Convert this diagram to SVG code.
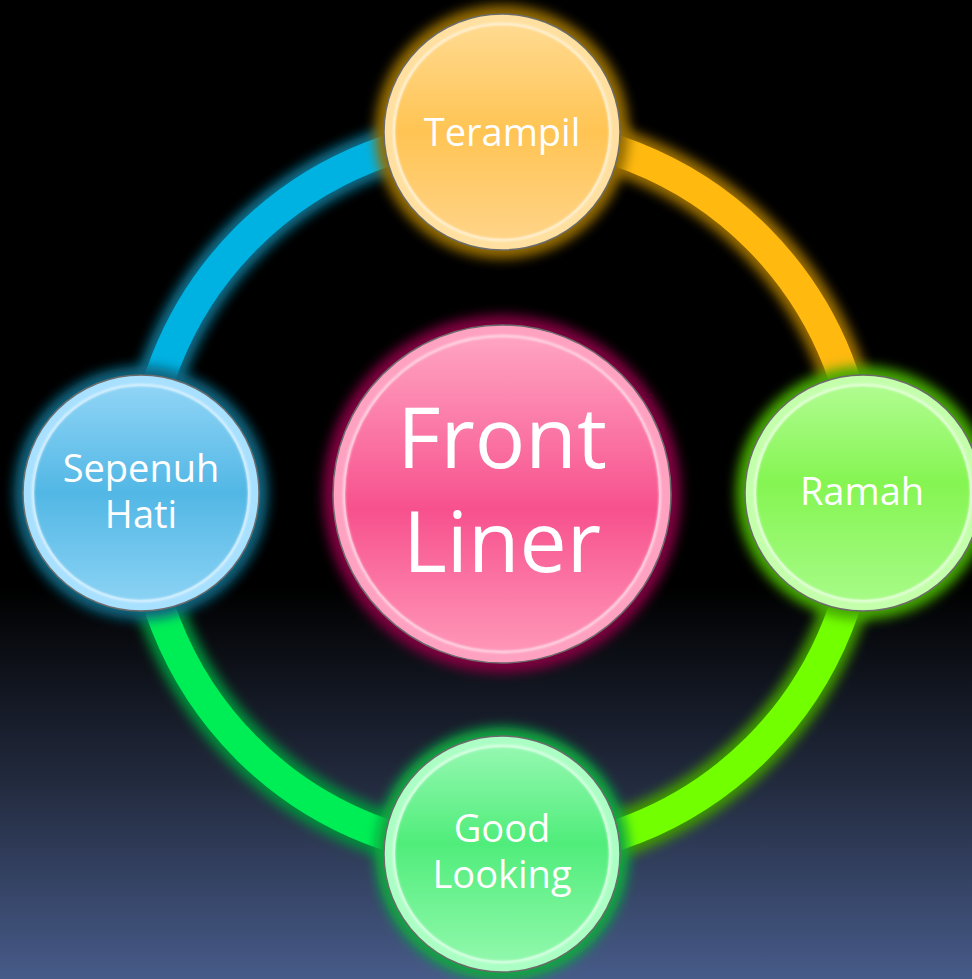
<svg xmlns="http://www.w3.org/2000/svg" width="972" height="979" viewBox="0 0 972 979">
<defs>
<linearGradient id="bg" x1="0" y1="0" x2="0" y2="1">
<stop offset="0" stop-color="#000"/>
<stop offset="0.6" stop-color="#000"/>
<stop offset="0.8" stop-color="#222a3e"/>
<stop offset="1" stop-color="#475b89"/>
</linearGradient>
<filter id="blur" x="-30%" y="-30%" width="160%" height="160%"><feGaussianBlur stdDeviation="6"/></filter>
<filter id="blurS" x="-30%" y="-30%" width="160%" height="160%"><feGaussianBlur stdDeviation="1.2"/></filter>
<linearGradient id="gT" x1="0" y1="0" x2="0" y2="1"><stop offset="0" stop-color="#ffda90"/><stop offset="0.5" stop-color="#ffc453"/><stop offset="1" stop-color="#ffd488"/></linearGradient>
<linearGradient id="gC" x1="0" y1="0" x2="0" y2="1"><stop offset="0" stop-color="#ffa4c2"/><stop offset="0.55" stop-color="#f7518d"/><stop offset="1" stop-color="#ff96b8"/></linearGradient>
<linearGradient id="gL" x1="0" y1="0" x2="0" y2="1"><stop offset="0" stop-color="#8fd4f6"/><stop offset="0.5" stop-color="#52b7e5"/><stop offset="1" stop-color="#8ad2f4"/></linearGradient>
<linearGradient id="gR" x1="0" y1="0" x2="0" y2="1"><stop offset="0" stop-color="#b0fc90"/><stop offset="0.45" stop-color="#85f552"/><stop offset="1" stop-color="#a6fb86"/></linearGradient>
<linearGradient id="gB" x1="0" y1="0" x2="0" y2="1"><stop offset="0" stop-color="#94f8b0"/><stop offset="0.45" stop-color="#50ed7b"/><stop offset="1" stop-color="#90f8ab"/></linearGradient>
</defs>
<style>
.glow{fill:none;stroke-width:46;filter:url(#blur)}
.arc{fill:none;stroke-width:31}
.halo{filter:url(#blur)}
.edge{stroke:#6b6b6b;stroke-width:1.5}
.hl{fill:none;stroke:#ffffff;stroke-opacity:0.6;stroke-width:2.5;filter:url(#blurS)}
.t{font-family:"Open Sans","Liberation Sans",sans-serif;fill:#fff;text-anchor:middle}
.s{font-size:38px}
.b{font-size:84px}
</style>
<rect width="972" height="979" fill="url(#bg)"/>
<g id="connectors">
<path class="glow" stroke="#0a6f8c" d="M502,132 A361,361 0 0 0 141,493"/>
<path class="glow" stroke="#9c7000" d="M502,132 A361,361 0 0 1 863,493"/>
<path class="glow" stroke="#3f9a00" d="M863,493 A361,361 0 0 1 502,854"/>
<path class="glow" stroke="#00903a" d="M502,854 A361,361 0 0 1 141,493"/>
<path class="arc" stroke="#00b2e2" d="M502,132 A361,361 0 0 0 141,493"/>
<path class="arc" stroke="#ffb90f" d="M502,132 A361,361 0 0 1 863,493"/>
<path class="arc" stroke="#72ff00" d="M863,493 A361,361 0 0 1 502,854"/>
<path class="arc" stroke="#00ee55" d="M502,854 A361,361 0 0 1 141,493"/>
</g>
<g id="node-center">
<circle class="halo" cx="502" cy="494" r="179" fill="#800040"/>
<circle class="edge" cx="502" cy="494" r="169" fill="#ffa2c2"/>
<circle cx="502" cy="494" r="157" fill="url(#gC)"/>
<circle class="hl" cx="502" cy="494" r="158"/>
<text class="t b" x="502" y="468">Front<tspan x="502" y="572">Liner</tspan></text>
</g>
<g id="node-top">
<circle class="halo" cx="502" cy="132" r="127" fill="#946c00"/>
<circle class="edge" cx="502" cy="132" r="118" fill="#ffe0a0"/>
<circle cx="502" cy="132" r="107" fill="url(#gT)"/>
<circle class="hl" cx="502" cy="132" r="108"/>
<text class="t s" x="502" y="146">Terampil</text>
</g>
<g id="node-left">
<circle class="halo" cx="141" cy="493" r="127" fill="#0b6580"/>
<circle class="edge" cx="141" cy="493" r="118" fill="#a8e0ff"/>
<circle cx="141" cy="493" r="107" fill="url(#gL)"/>
<circle class="hl" cx="141" cy="493" r="108"/>
<text class="t s" x="141" y="482">Sepenuh<tspan x="141" y="528">Hati</tspan></text>
</g>
<g id="node-right">
<circle class="halo" cx="863" cy="493" r="127" fill="#44a800"/>
<circle class="edge" cx="863" cy="493" r="118" fill="#c4ffac"/>
<circle cx="863" cy="493" r="107" fill="url(#gR)"/>
<circle class="hl" cx="863" cy="493" r="108"/>
<text class="t s" x="862" y="505">Ramah</text>
</g>
<g id="node-bottom">
<circle class="halo" cx="502" cy="854" r="127" fill="#0aa840"/>
<circle class="edge" cx="502" cy="854" r="118" fill="#acffc4"/>
<circle cx="502" cy="854" r="107" fill="url(#gB)"/>
<circle class="hl" cx="502" cy="854" r="108"/>
<text class="t s" x="502" y="842">Good<tspan x="502" y="888">Looking</tspan></text>
</g>
</svg>
